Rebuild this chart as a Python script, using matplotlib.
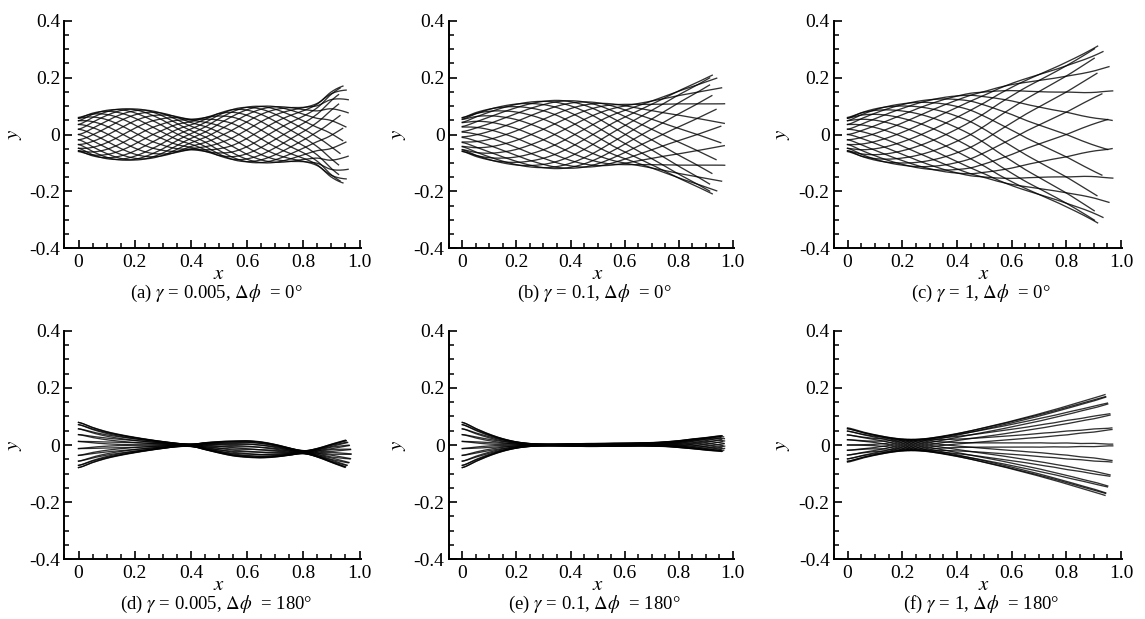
import numpy as np
import matplotlib
matplotlib.use("Agg")
import matplotlib.pyplot as plt
from matplotlib.ticker import MultipleLocator, FuncFormatter

plt.rcParams['font.family'] = ['Liberation Serif', 'DejaVu Serif']
plt.rcParams['mathtext.fontset'] = 'stix'
plt.rcParams['axes.unicode_minus'] = False

KNOTS = np.linspace(0.0, 1.0, 21)
N_SNAP = 20  # snapshots per flapping period

# deflection amplitude (envelope half-width), phase lag [deg], mean deflection
AMP_A = [0.060, 0.075, 0.085, 0.090, 0.090, 0.085, 0.075, 0.063, 0.054, 0.060, 0.075,
         0.089, 0.097, 0.100, 0.099, 0.096, 0.096, 0.110, 0.150, 0.175, 0.185]
PHASE_A = [0, 17, 34, 51, 68, 85, 102, 124, 147, 170, 192, 209, 226, 243, 260, 277,
           294, 311, 323, 333, 340]

AMP_B = [0.060, 0.077, 0.090, 0.100, 0.108, 0.114, 0.118, 0.120, 0.119, 0.116, 0.112,
         0.108, 0.106, 0.109, 0.119, 0.135, 0.155, 0.175, 0.198, 0.222, 0.248]
PHASE_B = [-8, -1, 7, 16, 25, 35, 45, 56, 68, 81, 95, 110, 125, 140, 153, 164, 172,
           178, 183, 187, 190]

AMP_C = [0.060, 0.077, 0.090, 0.100, 0.108, 0.116, 0.123, 0.130, 0.137, 0.145, 0.152,
         0.165, 0.180, 0.196, 0.213, 0.232, 0.254, 0.278, 0.305, 0.335, 0.365]
PHASE_C = [0, 10, 20, 30, 40, 50, 60, 70, 80, 90, 101, 112, 121, 129, 135, 140, 144,
           148, 151, 153, 155]

AMP_D = [0.080, 0.062, 0.047, 0.036, 0.027, 0.019, 0.012, 0.006, 0.004, 0.012, 0.020,
         0.026, 0.029, 0.028, 0.022, 0.013, 0.005, 0.015, 0.032, 0.048, 0.060]
PHASE_D = [9, 11, 13, 15, 17, 19, 21, 30, 100, 185, 190, 193, 196, 199, 202, 210, 280,
           365, 372, 376, 379]
OFFSET_D = [0, 0, 0, 0, 0, 0, 0, 0, -0.001, -0.004, -0.008, -0.012, -0.014, -0.017,
            -0.020, -0.023, -0.025, -0.027, -0.029, -0.031, -0.033]

AMP_E = [0.080, 0.058, 0.038, 0.022, 0.011, 0.005, 0.003, 0.003, 0.004, 0.005, 0.005,
         0.005, 0.005, 0.005, 0.006, 0.008, 0.012, 0.017, 0.022, 0.027, 0.031]
PHASE_E = [9, 11, 13, 15, 20, 45, 100, 150, 170, 182, 192, 202, 214, 228, 244, 262,
           281, 300, 318, 335, 350]
OFFSET_E = [0, 0, 0, 0, 0, 0, 0, 0, 0, 0, 0, 0.001, 0.001, 0.002, 0.002, 0.003, 0.003,
            0.004, 0.004, 0.005, 0.005]

AMP_F = [0.060, 0.047, 0.036, 0.027, 0.021, 0.020, 0.024, 0.031, 0.040, 0.050, 0.061,
         0.072, 0.084, 0.096, 0.109, 0.122, 0.136, 0.150, 0.164, 0.179, 0.194]
PHASE_F = [0, 1, 4, 15, 50, 110, 145, 160, 167, 171, 173, 174, 175, 176, 176, 177, 177,
           178, 178, 179, 179]
ZERO = [0.0] * 21

TAIL_X = [0.96, 0.97, 0.97, 0.97, 0.97, 0.97]
CAPTIONS = [r"(a) $\gamma$ = 0.005, $\Delta\phi$  = 0°",
            r"(b) $\gamma$ = 0.1, $\Delta\phi$  = 0°",
            r"(c) $\gamma$ = 1, $\Delta\phi$  = 0°",
            r"(d) $\gamma$ = 0.005, $\Delta\phi$  = 180°",
            r"(e) $\gamma$ = 0.1, $\Delta\phi$  = 180°",
            r"(f) $\gamma$ = 1, $\Delta\phi$  = 180°"]


def catmull(xk, yk, x):
    """smooth curve through the knots (uniform spacing)"""
    yk = np.asarray(yk, dtype=float)
    n = len(xk)
    h = xk[1] - xk[0]
    idx = np.clip(np.floor((x - xk[0]) / h).astype(int), 0, n - 2)
    t = np.clip((x - xk[idx]) / h, 0, 1)
    p0 = yk[np.maximum(idx - 1, 0)]
    p1 = yk[idx]
    p2 = yk[idx + 1]
    p3 = yk[np.minimum(idx + 2, n - 1)]
    return 0.5 * (2 * p1 + (-p0 + p2) * t + (2 * p0 - 5 * p1 + 4 * p2 - p3) * t ** 2
                  + (-p0 + 3 * p1 - 3 * p2 + p3) * t ** 3)


def draw_panel(ax, amp, phase, offset, tail_x):
    x = np.linspace(0, 1.0, 2001)
    a = catmull(KNOTS, amp, x)
    th = catmull(KNOTS, phase, x)
    off = catmull(KNOTS, offset, x)
    curves = []
    for j in range(N_SNAP):
        y = off + a * np.cos(np.radians(th - 360.0 * j / N_SNAP))
        s = np.concatenate([[0], np.cumsum(np.hypot(np.diff(x), np.diff(y)))])
        curves.append((y, s))
    # plate is inextensible: all snapshots have the same length
    length = min(np.interp(tail_x, x, s) for y, s in curves)
    for y, s in curves:
        keep = s <= length
        ax.plot(x[keep], y[keep], color='black', lw=0.95, alpha=0.8)


def style_axes(ax):
    ax.set_xlim(-0.05, 1.005)
    ax.set_ylim(-0.4, 0.4)
    for side in ['top', 'right']:
        ax.spines[side].set_visible(False)
    for side in ['left', 'bottom']:
        ax.spines[side].set_linewidth(1.4)
    ax.xaxis.set_major_locator(MultipleLocator(0.2))
    ax.xaxis.set_minor_locator(MultipleLocator(0.05))
    ax.yaxis.set_major_locator(MultipleLocator(0.2))
    ax.yaxis.set_minor_locator(MultipleLocator(0.05))
    fmt = FuncFormatter(lambda v, p: '0' if abs(v) < 1e-9 else '%.1f' % v)
    ax.xaxis.set_major_formatter(fmt)
    ax.yaxis.set_major_formatter(fmt)
    ax.tick_params(which='both', direction='in', top=False, right=False, labelsize=14)
    ax.tick_params(which='major', length=6, width=1.2)
    ax.tick_params(which='minor', length=3.5, width=1.1)
    ax.tick_params(axis='x', pad=4)
    ax.tick_params(axis='y', pad=3)


W, H = 1145, 619
fig = plt.figure(figsize=(W / 100, H / 100), dpi=100)

col_x0 = [78.5, 462.3, 847.5]     # pixel of x = 0
col_scale = [281.0, 270.5, 273.5]  # pixels per unit x
row_top = [20.7, 330.7]
row_bot = [248.3, 559.3]
ylab_x = [15, 398, 783]

amps = [AMP_A, AMP_B, AMP_C, AMP_D, AMP_E, AMP_F]
phases = [PHASE_A, PHASE_B, PHASE_C, PHASE_D, PHASE_E, PHASE_F]
offsets = [ZERO, ZERO, ZERO, OFFSET_D, OFFSET_E, ZERO]

for k in range(6):
    r, c = divmod(k, 3)
    left = col_x0[c] - 0.05 * col_scale[c]
    width = 1.055 * col_scale[c]
    ax = fig.add_axes([left / W, 1 - row_bot[r] / H, width / W, (row_bot[r] - row_top[r]) / H])
    draw_panel(ax, amps[k], phases[k], offsets[k], TAIL_X[k])
    style_axes(ax)
    xc = (col_x0[c] + 0.5 * col_scale[c]) / W
    fig.text(xc, 1 - (row_bot[r] + 30.5) / H, r"$x$", ha='center', va='baseline', fontsize=15)
    fig.text(xc - 3 / W, 1 - (row_bot[r] + 34.5) / H, CAPTIONS[k], ha='center', va='top',
             fontsize=13.5)
    fig.text(ylab_x[c] / W, 1 - (row_top[r] + row_bot[r]) / 2 / H, r"$y$", rotation=90,
             ha='center', va='center', fontsize=15)

plt.savefig("out.png", dpi=100)
